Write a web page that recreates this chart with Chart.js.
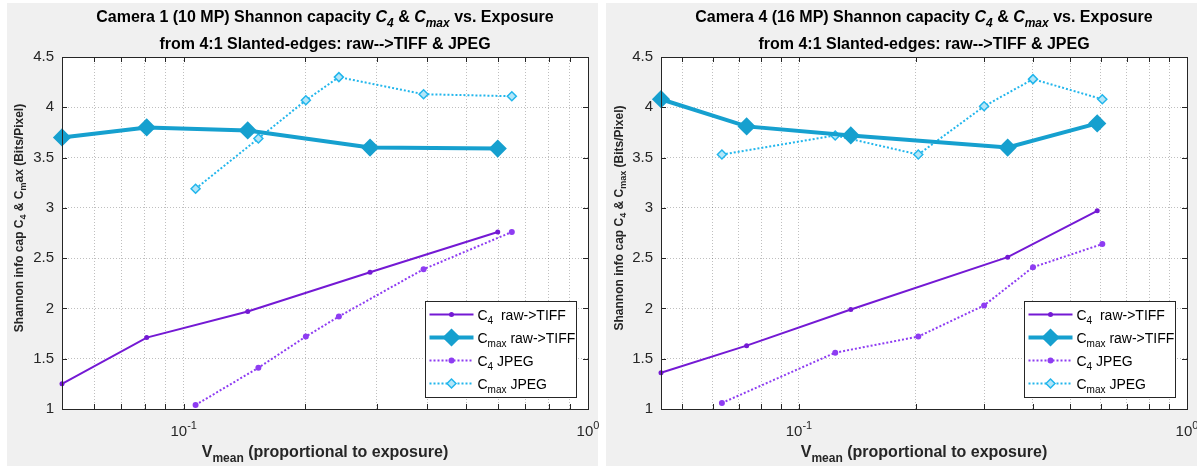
<!DOCTYPE html>
<html>
<head>
<meta charset="utf-8">
<script src="https://cdn.jsdelivr.net/npm/chart.js@4.4.1/dist/chart.umd.min.js"></script>
<style>
  body { margin: 0; background: #fff; width: 1197px; height: 466px; overflow: hidden; position: relative; }
  .panel { position: absolute; top: 3px; height: 463px; background: #f0f0f0; }
  canvas { position: absolute; top: 0; }
</style>
</head>
<body>
<div class="panel" style="left:7px;width:591px"></div>
<div class="panel" style="left:606px;width:591px"></div>
<canvas id="cam1" width="600" height="466" style="left:0"></canvas>
<canvas id="cam4" width="597" height="466" style="left:600px"></canvas>
<script>
// Camera 1 (10 MP)
const cam1RawX = [0.05, 0.081, 0.144, 0.289, 0.598];
const cam1C4Raw = [1.25, 1.71, 1.97, 2.36, 2.76];
const cam1CmaxRaw = [3.70, 3.80, 3.77, 3.60, 3.59];
const cam1JpegX = [0.107, 0.153, 0.2005, 0.242, 0.392, 0.648];
const cam1C4Jpeg = [1.04, 1.41, 1.72, 1.92, 2.39, 2.76];
const cam1CmaxJpeg = [3.19, 3.69, 4.07, 4.30, 4.13, 4.11];

// Camera 4 (16 MP)
const cam4RawX = [0.0441, 0.0733, 0.136, 0.345, 0.587];
const cam4C4Raw = [1.36, 1.63, 1.99, 2.51, 2.97];
const cam4CmaxRaw = [4.08, 3.81, 3.72, 3.60, 3.84];
const cam4JpegX = [0.0633, 0.124, 0.203, 0.300, 0.401, 0.605];
const cam4C4Jpeg = [1.06, 1.56, 1.72, 2.03, 2.41, 2.64];
const cam4CmaxJpeg = [3.53, 3.72, 3.53, 4.01, 4.28, 4.08];

// axis ticks
const xGridValues = [0.04, 0.05, 0.06, 0.07, 0.08, 0.09, 0.1, 0.2, 0.3, 0.4, 0.5, 0.6, 0.7, 0.8, 0.9, 1];
const xTickLabels = [{ v: 0.1, base: '10', sup: '-1' }, { v: 1, base: '10', sup: '0' }];

// text pieces: [text, style]  i = italic, s = subscript, u = superscript
const legendLabels = [
  [['C', ''], ['4', 's'], ['  raw->TIFF', '']],
  [['C', ''], ['max', 's'], [' raw->TIFF', '']],
  [['C', ''], ['4', 's'], [' JPEG', '']],
  [['C', ''], ['max', 's'], [' JPEG', '']]
];
const subtitle = [['from 4:1 Slanted-edges: raw-->TIFF & JPEG', '']];
const xLabel = [['V', ''], ['mean', 's'], [' (proportional to exposure)', '']];

const FONT = '"Liberation Sans", Arial, Helvetica, sans-serif';
const C4_RAW = '#7419d4';
const CMAX_RAW = '#16a0cf';
const C4_JPEG = '#8e3cf2';
const CMAX_JPEG = '#22b6ec';
const GRID = 'rgba(0,0,0,0.25)';
const AXIS = '#262626';

function titleParts(cam) {
  return [[cam + ' Shannon capacity ', ''], ['C', 'i'], ['4', 'is'], [' & ', ''], ['C', 'i'], ['max', 'is'], [' vs. Exposure', '']];
}

function drawRich(ctx, parts, x, y, size, bold, align) {
  const fontFor = (st) => {
    const small = st.includes('s') || st.includes('u');
    return (st.includes('i') ? 'italic ' : '') + (bold ? 'bold ' : '') +
      (small ? Math.round(size * 0.72) : size) + 'px ' + FONT;
  };
  let w = 0;
  parts.forEach(p => { ctx.font = fontFor(p[1]); w += ctx.measureText(p[0]).width; });
  let cx = align === 'center' ? x - w / 2 : x;
  ctx.textAlign = 'left';
  ctx.textBaseline = 'alphabetic';
  parts.forEach(p => {
    const st = p[1];
    ctx.font = fontFor(st);
    const dy = st.includes('s') ? size * 0.32 : st.includes('u') ? -size * 0.45 : 0;
    ctx.fillText(p[0], cx, y + dy);
    cx += ctx.measureText(p[0]).width;
  });
}

const frame = {
  id: 'frame',
  beforeDraw(chart) {
    const { ctx, chartArea: a } = chart;
    ctx.save();
    ctx.fillStyle = '#fff';
    ctx.fillRect(a.left, a.top, a.right - a.left, a.bottom - a.top);
    ctx.restore();
  },
  afterDraw(chart) {
    const { ctx, chartArea: a } = chart;
    const o = chart.options.plugins.frame;
    const xs = chart.scales.x, ys = chart.scales.y;
    ctx.save();

    // box + inner ticks
    ctx.strokeStyle = AXIS;
    ctx.lineWidth = 1;
    ctx.beginPath();
    xs.ticks.forEach(t => {
      const px = Math.round(xs.getPixelForValue(t.value)) + 0.5;
      ctx.moveTo(px, a.bottom); ctx.lineTo(px, a.bottom - 5);
      ctx.moveTo(px, a.top); ctx.lineTo(px, a.top + 5);
    });
    ys.ticks.forEach(t => {
      const py = Math.round(ys.getPixelForValue(t.value)) + 0.5;
      ctx.moveTo(a.left, py); ctx.lineTo(a.left + 5, py);
      ctx.moveTo(a.right, py); ctx.lineTo(a.right - 5, py);
    });
    ctx.stroke();
    ctx.strokeRect(Math.round(a.left) + 0.5, Math.round(a.top) + 0.5,
      Math.round(a.right - a.left), Math.round(a.bottom - a.top));

    // x tick labels 10^n
    ctx.fillStyle = AXIS;
    xTickLabels.forEach(l => {
      const px = xs.getPixelForValue(l.v);
      drawRich(ctx, [[l.base, ''], [l.sup, 'u']], px, a.bottom + 27, 15, false, 'center');
    });

    // titles
    const cx = (a.left + a.right) / 2;
    ctx.fillStyle = '#000';
    drawRich(ctx, o.title, cx, 22, 16, true, 'center');
    drawRich(ctx, subtitle, cx, 49, 16, true, 'center');

    // axis labels
    ctx.fillStyle = AXIS;
    drawRich(ctx, xLabel, cx, a.bottom + 48, 16, true, 'center');
    ctx.save();
    ctx.translate(18, 218);
    ctx.rotate(-Math.PI / 2);
    drawRich(ctx, o.ylabel, 0, 4.5, 12, true, 'center');
    ctx.restore();

    // legend
    const bw = 151, bh = 96;
    const bx = Math.round(a.right - 12 - bw) + 0.5, by = Math.round(a.bottom - 12 - bh) + 0.5;
    ctx.fillStyle = '#fff';
    ctx.fillRect(bx, by, bw, bh);
    ctx.strokeStyle = AXIS;
    ctx.lineWidth = 1;
    ctx.strokeRect(bx, by, bw, bh);
    chart.data.datasets.forEach((ds, i) => {
      const ry = by + 13 + i * 23;
      ctx.save();
      ctx.strokeStyle = ds.borderColor;
      ctx.lineWidth = ds.borderWidth;
      ctx.setLineDash(ds.borderDash || []);
      ctx.beginPath();
      ctx.moveTo(bx + 4, ry); ctx.lineTo(bx + 48, ry);
      ctx.stroke();
      ctx.setLineDash([]);
      ctx.fillStyle = ds.pointBackgroundColor || ds.backgroundColor;
      ctx.lineWidth = ds.pointBorderWidth;
      Chart.helpers.drawPoint(ctx, {
        pointStyle: ds.pointStyle, radius: ds.pointRadius, rotation: 0, borderWidth: ds.pointBorderWidth
      }, bx + 26, ry);
      ctx.restore();
      ctx.fillStyle = '#000';
      drawRich(ctx, legendLabels[i], bx + 52, ry + 5, 14, false, 'left');
    });
    ctx.restore();
  }
};

function pts(xs, ys) {
  return xs.map((x, i) => ({ x: x, y: ys[i] }));
}

function makeChart(id, cam, ylabel, rawX, c4Raw, cmaxRaw, jpgX, c4Jpg, cmaxJpg, yWidth, padRight) {
  const gridOpts = { color: GRID, lineWidth: 1, drawTicks: false };
  const borderOpts = { display: false, dash: [1, 2] };
  return new Chart(document.getElementById(id), {
    type: 'line',
    data: {
      datasets: [
        { label: 'C4 raw->TIFF', data: pts(rawX, c4Raw), borderColor: C4_RAW, backgroundColor: C4_RAW,
          borderWidth: 2, pointStyle: 'circle', pointRadius: 2.5, pointBorderWidth: 0, clip: false, order: 2 },
        { label: 'Cmax raw->TIFF', data: pts(rawX, cmaxRaw), borderColor: CMAX_RAW, backgroundColor: CMAX_RAW,
          borderWidth: 4, pointStyle: 'rectRot', pointRadius: 7, pointBorderWidth: 3, clip: false, order: 1 },
        { label: 'C4 JPEG', data: pts(jpgX, c4Jpg), borderColor: C4_JPEG, backgroundColor: C4_JPEG,
          borderWidth: 2, borderDash: [2, 2], pointStyle: 'circle', pointRadius: 3, pointBorderWidth: 0, clip: false, order: 4 },
        { label: 'Cmax JPEG', data: pts(jpgX, cmaxJpg), borderColor: CMAX_JPEG, backgroundColor: CMAX_JPEG,
          pointBackgroundColor: '#b4e6f8', borderWidth: 2, borderDash: [2, 2], pointStyle: 'rectRot',
          pointRadius: 4.5, pointBorderWidth: 1.5, clip: false, order: 3 }
      ]
    },
    options: {
      responsive: false,
      animation: false,
      layout: { padding: { top: 57, right: padRight, bottom: 0, left: 0 } },
      plugins: {
        legend: { display: false },
        tooltip: { enabled: false },
        frame: { title: titleParts(cam), ylabel: ylabel }
      },
      scales: {
        x: {
          type: 'logarithmic',
          min: rawX[0],
          max: 1,
          afterBuildTicks: s => {
            s.ticks = xGridValues.filter(v => v >= s.min - 1e-9 && v <= s.max + 1e-9).map(v => ({ value: v }));
          },
          afterFit: s => { s.height = 57; },
          ticks: { display: false },
          grid: gridOpts,
          border: borderOpts
        },
        y: {
          min: 1,
          max: 4.5,
          afterFit: s => { s.width = yWidth; },
          ticks: {
            stepSize: 0.5, color: AXIS, font: { family: FONT, size: 15 }, padding: 8,
            callback: v => String(Math.round(v * 10) / 10)
          },
          grid: gridOpts,
          border: borderOpts
        }
      }
    },
    plugins: [frame]
  });
}

makeChart('cam1', 'Camera 1 (10 MP)',
  [['Shannon info cap C', ''], ['4', 's'], [' & C', ''], ['m', 's'], ['ax (Bits/Pixel)', '']],
  cam1RawX, cam1C4Raw, cam1CmaxRaw, cam1JpegX, cam1C4Jpeg, cam1CmaxJpeg, 62, 12);

makeChart('cam4', 'Camera 4 (16 MP)',
  [['Shannon info cap C', ''], ['4', 's'], [' & C', ''], ['max', 's'], [' (Bits/Pixel)', '']],
  cam4RawX, cam4C4Raw, cam4CmaxRaw, cam4JpegX, cam4C4Jpeg, cam4CmaxJpeg, 61, 10);
</script>
</body>
</html>
